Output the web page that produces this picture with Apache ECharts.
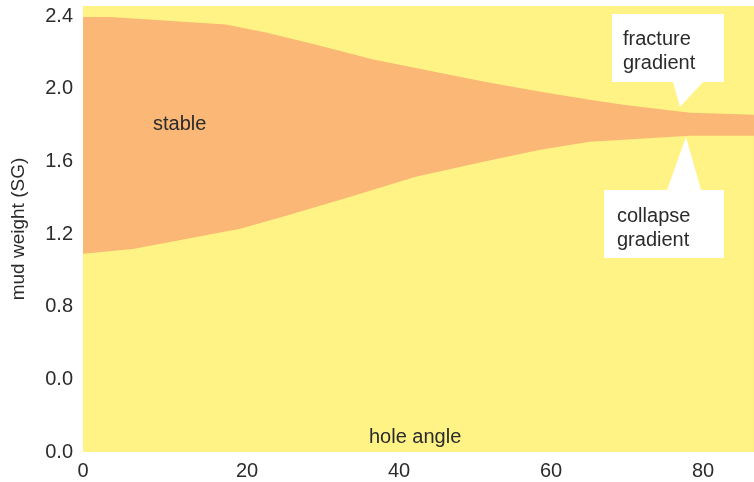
<!DOCTYPE html>
<html>
<head>
<meta charset="utf-8">
<script src="https://cdn.jsdelivr.net/npm/echarts@6/dist/echarts.min.js"></script>
<style>
html,body{margin:0;padding:0;background:#fff;}
#chart{width:754px;height:482px;}
</style>
</head>
<body>
<div id="chart"></div>
<script>
// ---- data ----
const xUpper   = [-1.58, 2.0, 17.2, 22.5, 29.1, 36.6, 44.5, 51.1, 58.6, 65.1, 69.5, 73.9, 78.3, 82.6, 86.7];
const fracture = [2.395, 2.395, 2.353, 2.309, 2.242, 2.160, 2.094, 2.039, 1.983, 1.939, 1.912, 1.890, 1.868, 1.862, 1.857];
const xLower   = [-1.58, 5.0, 19.1, 24.7, 33.6, 42.2, 51.1, 58.6, 65.1, 69.5, 73.9, 78.3, 86.7];
const collapse = [1.091, 1.118, 1.229, 1.295, 1.405, 1.515, 1.598, 1.664, 1.708, 1.719, 1.730, 1.741, 1.741];

const xTickValues = [0, 20, 40, 60, 80];
const xTickLabels = ['0', '20', '40', '60', '80'];
const yTickValues = [0, 0.4, 0.8, 1.2, 1.6, 2.0, 2.4];
const yTickLabels = ['0.0', '0.0', '0.8', '1.2', '1.6', '2.0', '2.4'];

const FONT = '"Liberation Sans", Arial, sans-serif';
const YELLOW = '#FFF385';
const ORANGE = '#FBB775';
const TXT = '#2b2b2b';

const upperData = xUpper.map((x, i) => [x, fracture[i]]);
const lowerData = xLower.map((x, i) => [x, collapse[i]]);

function pick(vals, labels, v) {
  const i = vals.findIndex(t => Math.abs(t - v) < 1e-6);
  return i >= 0 ? labels[i] : '';
}

const chart = echarts.init(document.getElementById('chart'), null, {renderer: 'canvas'});
chart.setOption({
  animation: false,
  backgroundColor: '#ffffff',
  grid: {left: 83, right: 0, top: 6, bottom: 30, show: true, backgroundColor: YELLOW, borderWidth: 0},
  xAxis: {
    type: 'value', min: -1.58, max: 86.71,
    axisLine: {show: false}, axisTick: {show: false}, splitLine: {show: false},
    axisLabel: {
      customValues: xTickValues,
      margin: 9,
      fontSize: 20, fontFamily: FONT, color: TXT,
      formatter: function (v) {
        const s = pick(xTickValues, xTickLabels, v);
        return Math.abs(v) < 1e-6 ? '{z|' + s + '}' : s;
      },
      rich: {z: {fontSize: 20, fontFamily: FONT, color: TXT, padding: [0, 24, 0, 0]}}
    }
  },
  yAxis: {
    type: 'value', min: 0, max: 2.455,
    name: 'mud weight (SG)', nameLocation: 'middle', nameGap: 55, nameRotate: 90,
    nameTextStyle: {fontSize: 19, fontFamily: FONT, color: TXT},
    axisLine: {show: false}, axisTick: {show: false}, splitLine: {show: false},
    axisLabel: {
      customValues: yTickValues,
      margin: 10,
      fontSize: 20, fontFamily: FONT, color: TXT,
      formatter: function (v) { return pick(yTickValues, yTickLabels, v); }
    }
  },
  series: [
    {
      name: 'fracture gradient', type: 'line', data: upperData,
      symbol: 'none', lineStyle: {width: 0}, itemStyle: {color: ORANGE},
      areaStyle: {color: ORANGE, opacity: 1, origin: 'start'}, z: 2
    },
    {
      name: 'collapse gradient', type: 'line', data: lowerData,
      symbol: 'none', lineStyle: {width: 0}, itemStyle: {color: YELLOW},
      areaStyle: {color: YELLOW, opacity: 1, origin: 'start'}, z: 3
    }
  ],
  graphic: [
    {type: 'polygon', z: 10, shape: {points: [[612,14],[724,14],[724,82],[703,82],[680,107],[673,82],[612,82]]}, style: {fill: '#ffffff'}},
    {type: 'polygon', z: 10, shape: {points: [[604,190],[667,190],[686,137],[701,190],[724,190],[724,258],[604,258]]}, style: {fill: '#ffffff'}},
    {type: 'text', z: 11, x: 623, y: 51, style: {text: 'fracture\ngradient', fontSize: 20, fontFamily: FONT, fill: TXT, lineHeight: 24, textAlign: 'left', textVerticalAlign: 'middle'}},
    {type: 'text', z: 11, x: 617, y: 228, style: {text: 'collapse\ngradient', fontSize: 20, fontFamily: FONT, fill: TXT, lineHeight: 24, textAlign: 'left', textVerticalAlign: 'middle'}},
    {type: 'text', z: 11, x: 153, y: 124, style: {text: 'stable', fontSize: 20, fontFamily: FONT, fill: TXT, textAlign: 'left', textVerticalAlign: 'middle'}},
    {type: 'text', z: 11, x: 369, y: 437, style: {text: 'hole angle', fontSize: 20, fontFamily: FONT, fill: TXT, textAlign: 'left', textVerticalAlign: 'middle'}}
  ]
});
</script>
</body>
</html>
